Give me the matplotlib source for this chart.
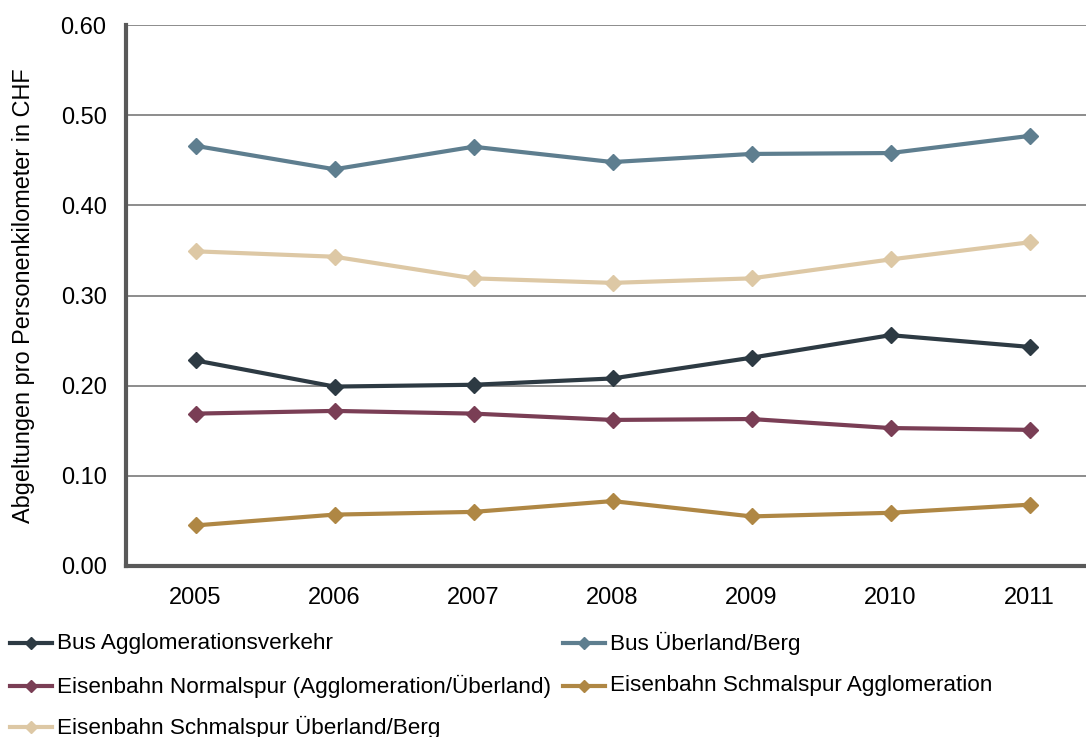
import matplotlib
matplotlib.use("Agg")
import matplotlib.pyplot as plt
from matplotlib.lines import Line2D

plt.rcParams['font.family'] = ['Liberation Sans', 'DejaVu Sans']

years = ['2005', '2006', '2007', '2008', '2009', '2010', '2011']
bus_agglo = [0.228, 0.199, 0.201, 0.208, 0.231, 0.256, 0.243]
bus_ueberland = [0.466, 0.440, 0.465, 0.448, 0.457, 0.458, 0.477]
normalspur = [0.169, 0.172, 0.169, 0.162, 0.163, 0.153, 0.151]
schmal_agglo = [0.045, 0.057, 0.060, 0.072, 0.055, 0.059, 0.068]
schmal_ueberland = [0.349, 0.343, 0.319, 0.314, 0.319, 0.340, 0.359]

series = [
    ('Bus Agglomerationsverkehr', bus_agglo, '#2D3A43'),
    ('Bus Überland/Berg', bus_ueberland, '#5E7E8F'),
    ('Eisenbahn Normalspur (Agglomeration/Überland)', normalspur, '#7A3E55'),
    ('Eisenbahn Schmalspur Agglomeration', schmal_agglo, '#AF8744'),
    ('Eisenbahn Schmalspur Überland/Berg', schmal_ueberland, '#DDC8A5'),
]

W, H = 1086, 737
fig = plt.figure(figsize=(W/100, H/100), dpi=100)
ax = fig.add_axes([126/W, 1-566/H, 973/W, 541/H])

x = list(range(len(years)))
for name, vals, col in series:
    ax.plot(x, vals, color=col, lw=3, marker='D', ms=8.5, label=name, zorder=3)

ax.set_xlim(-0.5, 6.5)
ax.set_ylim(0, 0.6)
ax.set_yticks([0, 0.1, 0.2, 0.3, 0.4, 0.5, 0.6])
ax.set_yticklabels(['0.00', '0.10', '0.20', '0.30', '0.40', '0.50', '0.60'])
ax.set_xticks(x)
ax.set_xticklabels(years)
ax.tick_params(axis='both', length=0, labelsize=17)
ax.tick_params(axis='y', pad=14)
ax.tick_params(axis='x', pad=15)
ax.grid(axis='y', color='#8C8C8C', lw=1.4, zorder=0)
ax.set_axisbelow(True)
for s in ['top', 'right']:
    ax.spines[s].set_visible(False)
for s in ['left', 'bottom']:
    ax.spines[s].set_color('#595959')
    ax.spines[s].set_linewidth(3)
ax.set_ylabel('Abgeltungen pro Personenkilometer in CHF', fontsize=16.9)
ax.yaxis.set_label_coords(-0.094, 0.5)

# legend laid out in rows like the reference
legend_pos = [
    (0, 10, 643), (1, 563, 643),
    (2, 10, 686), (3, 563, 686),
    (4, 10, 727),
]
for idx, px, py in legend_pos:
    name, vals, col = series[idx]
    yf = 1 - py/H
    fig.add_artist(Line2D([px/W, (px+42)/W], [yf, yf], color=col, lw=3,
                          transform=fig.transFigure))
    fig.add_artist(Line2D([(px+21)/W], [yf], color=col, marker='D', ms=6,
                          transform=fig.transFigure))
    fig.text((px+47)/W, yf, name, fontsize=16.2, va='center', ha='left')

fig.savefig('out.png', dpi=100)
